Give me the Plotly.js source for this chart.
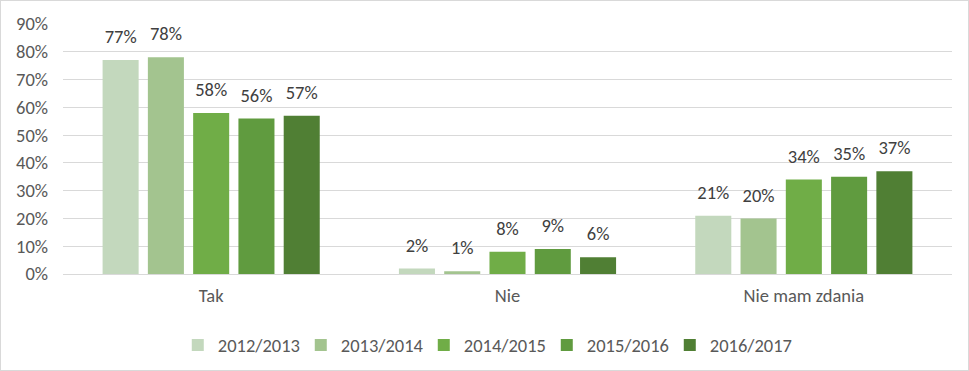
<!DOCTYPE html>
<html><head><meta charset="utf-8">
<script src="https://cdn.plot.ly/plotly-3.0.1.min.js"></script>
<style>
html,body{margin:0;padding:0;background:#fff;}
#chart{width:967px;height:369px;border:1px solid #d9d9d9;}
</style></head>
<body><div id="chart"></div>
<script>
const categories = ["Tak", "Nie", "Nie mam zdania"];
const seriesNames = ["2012/2013", "2013/2014", "2014/2015", "2015/2016", "2016/2017"];
const v2012 = [77, 2, 21];
const v2013 = [78, 1, 20];
const v2014 = [58, 8, 34];
const v2015 = [56, 9, 35];
const v2016 = [57, 6, 37];
const tickVals = [0,10,20,30,40,50,60,70,80,90];
const tickText = ["0%","10%","20%","30%","40%","50%","60%","70%","80%","90%"];
const colors = ["#c3d8bd", "#a3c48f", "#70ad47", "#609b3f", "#507f34"];
const values = [v2012, v2013, v2014, v2015, v2016];
const font = "Carlito, Calibri, Lato, 'Liberation Sans', sans-serif";
const FS = 18.5;
const labelGap = 3.2; // gap (in axis units) between bar top and its label
const traces = [];
values.forEach((v, i) => {
  traces.push({
    type: 'bar', name: seriesNames[i], x: categories, y: v, offsetgroup: String(i),
    marker: {color: colors[i]}, hoverinfo: 'none', textposition: 'none'
  });
});
values.forEach((v, i) => {
  traces.push({
    type: 'bar', name: seriesNames[i], x: categories, y: v.map(() => labelGap), base: v,
    offsetgroup: String(i), showlegend: false,
    marker: {color: 'rgba(0,0,0,0)'},
    text: v.map(d => d + '%'), textposition: 'outside', cliponaxis: false,
    textfont: {color: '#404040', size: FS, family: font},
    hoverinfo: 'none'
  });
});
const layout = {
  width: 967, height: 369,
  margin: {l: 62, r: 16, t: 23, b: 96},
  barmode: 'group', bargap: 0.236, bargroupgap: 0.204,
  paper_bgcolor: '#fff', plot_bgcolor: '#fff',
  font: {family: font, color: '#595959', size: FS},
  showlegend: true,
  legend: {orientation: 'h', xref: 'paper', x: 0.475, xanchor: 'center',
    yref: 'container', y: 0.118, yanchor: 'top',
    font: {size: FS, color: '#595959'}, itemwidth: 30, traceorder: 'normal',
    entrywidth: 78, entrywidthmode: 'pixels'},
  xaxis: {showgrid: false, zeroline: false, showline: false, ticks: '',
    tickfont: {size: FS, color: '#595959'}, ticklabelstandoff: 8},
  yaxis: {range: [0, 90], tickvals: tickVals, ticktext: tickText,
    showgrid: true, gridcolor: '#d9d9d9', gridwidth: 1, zeroline: true, zerolinecolor: '#d9d9d9',
    showline: false, ticks: '', tickfont: {size: FS, color: '#595959'}, ticklabelstandoff: 14}
};
Plotly.newPlot('chart', traces, layout, {displayModeBar: false, staticPlot: true});
</script></body></html>
